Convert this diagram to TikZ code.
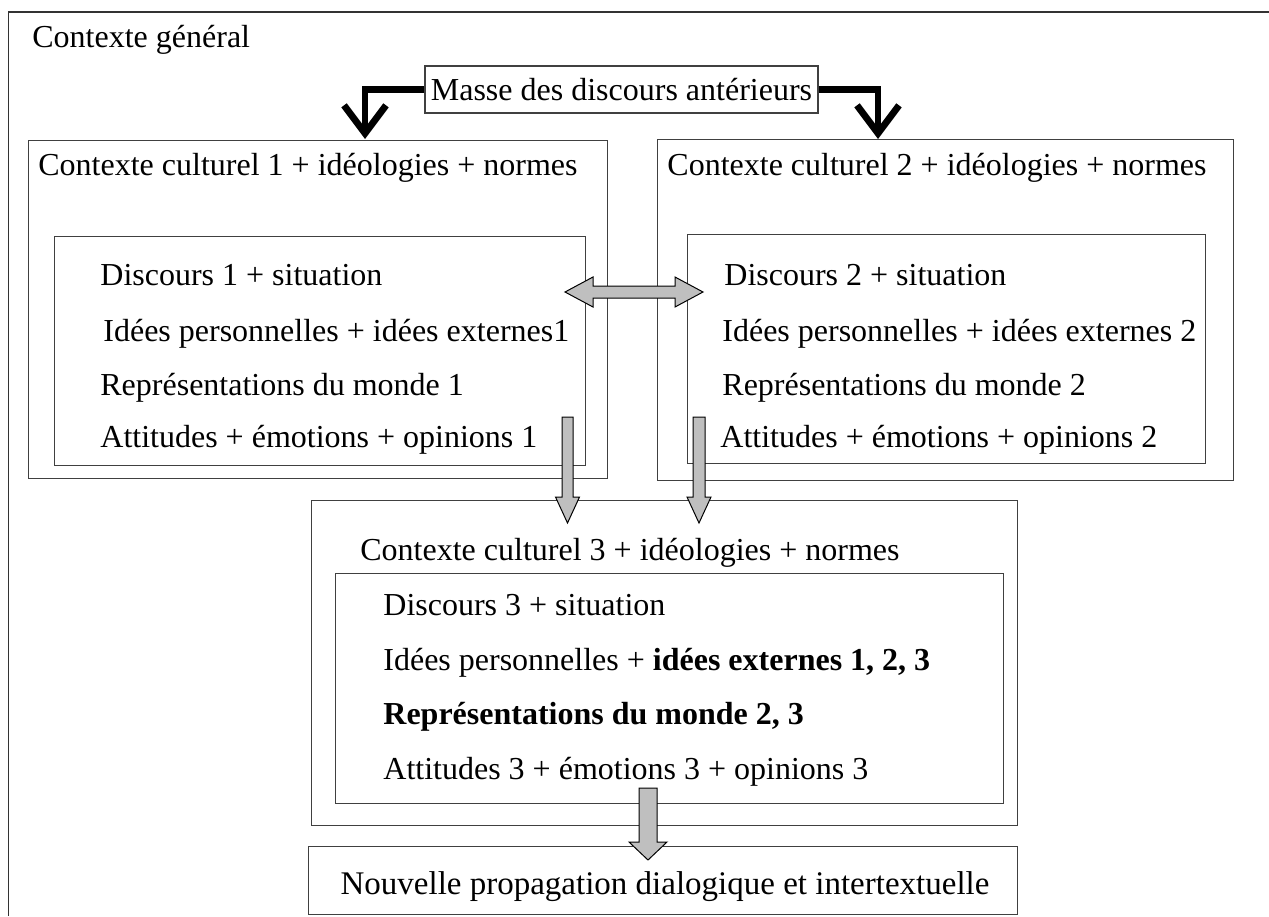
\documentclass[tikz,border=0pt]{standalone}
\usepackage{fontspec}
\setmainfont{Liberation Serif}
\usetikzlibrary{arrows.meta}
\newcommand\boxnode[5]{\node[box,minimum width={(#4-#2)*0.5pt},minimum height={(#5-#3)*0.5pt}] (#1) at (#2,#3) {};}
\newcommand\blockdown[6]{\draw[block] (#1-#4,#2) -- (#1+#4,#2) -- (#1+#4,#3-#6) -- (#1+#5,#3-#6) -- (#1,#3) -- (#1-#5,#3-#6) -- (#1-#4,#3-#6) -- cycle;}
\begin{document}
\begin{tikzpicture}[x=0.5pt,y=-0.5pt,
 box/.style={draw=black!75,line width=0.65pt,inner sep=0pt,anchor=north west},
 txt/.style={anchor=base west,inner sep=0pt,font=\fontsize{16}{19}\selectfont},
 thickarrow/.style={line width=3.4pt,line join=miter,-{Straight Barb[length=14pt,width=21pt]}},
 block/.style={fill=black!25,draw=black,line width=0.5pt,line join=miter}]
\useasboundingbox (0,0) rectangle (1269,916);
\draw[black!80,line width=0.8pt] (8.5,916) -- (8.5,12) -- (1269,12);
\node[txt] (tg) at (32,47) {Contexte général};
% top box
\node[draw=black!75,line width=0.65pt,inner sep=0pt,minimum width={393*0.5pt},minimum height={47*0.5pt},font=\fontsize{16}{19}\selectfont] (masse) at (621.5,89.5) {Masse des discours antérieurs};
% boxes
\boxnode{c1}{28}{140}{607}{478}
\boxnode{c1i}{54}{236}{585}{465}
\boxnode{c2}{657}{139}{1233}{480}
\boxnode{c2i}{687}{234}{1205}{463}
\boxnode{c3}{311}{500}{1017}{825}
\boxnode{c3i}{335}{573}{1003}{803}
\boxnode{nb}{308}{846}{1017}{914}
% texts C1
\node[txt] (c1t) at (38,175) {Contexte culturel 1 + idéologies + normes};
\node[txt] (c1a) at (100,285) {Discours 1 + situation};
\node[txt] (c1b) at (103,341) {Idées personnelles + idées externes1};
\node[txt] (c1c) at (100,395) {Représentations du monde 1};
\node[txt] (c1d) at (100,447) {Attitudes + émotions + opinions 1};
% texts C2
\node[txt] (c2t) at (667,175) {Contexte culturel 2 + idéologies + normes};
\node[txt] (c2a) at (724,285) {Discours 2 + situation};
\node[txt] (c2b) at (722,341) {Idées personnelles + idées externes 2};
\node[txt] (c2c) at (722,395) {Représentations du monde 2};
\node[txt] (c2d) at (720,447) {Attitudes + émotions + opinions 2};
% texts C3
\node[txt] (c3t) at (360,560) {Contexte culturel 3 + idéologies + normes};
\node[txt] (c3a) at (383,615) {Discours 3 + situation};
\node[txt] (c3b) at (383,670) {Idées personnelles + \textbf{idées externes 1, 2, 3}};
\node[txt] (c3c) at (383,724) {\textbf{Représentations du monde 2, 3}};
\node[txt] (c3d) at (383,779) {Attitudes 3 + émotions 3 + opinions 3};
\node[txt,anchor=base,font=\fontsize{16.5}{19}\selectfont] (nbt) at (665,894) {Nouvelle propagation dialogique et intertextuelle};
% thick arrows
\coordinate (t1) at (365,139);
\coordinate (t2) at (878,139);
\draw[thickarrow] (masse.west) -| (t1);
\draw[thickarrow] (masse.east) -| (t2);
% block arrows
\draw[block] (565,292) -- (593,277) -- (593,286) -- (675,286) -- (675,277) -- (703,292) -- (675,307) -- (675,298) -- (593,298) -- (593,307) -- cycle;
\blockdown{567.5}{417}{523}{5.5}{12}{26}
\blockdown{699}{417}{523}{6}{12}{26}
\blockdown{648}{788}{860}{9}{19}{18}
\end{tikzpicture}
\end{document}
